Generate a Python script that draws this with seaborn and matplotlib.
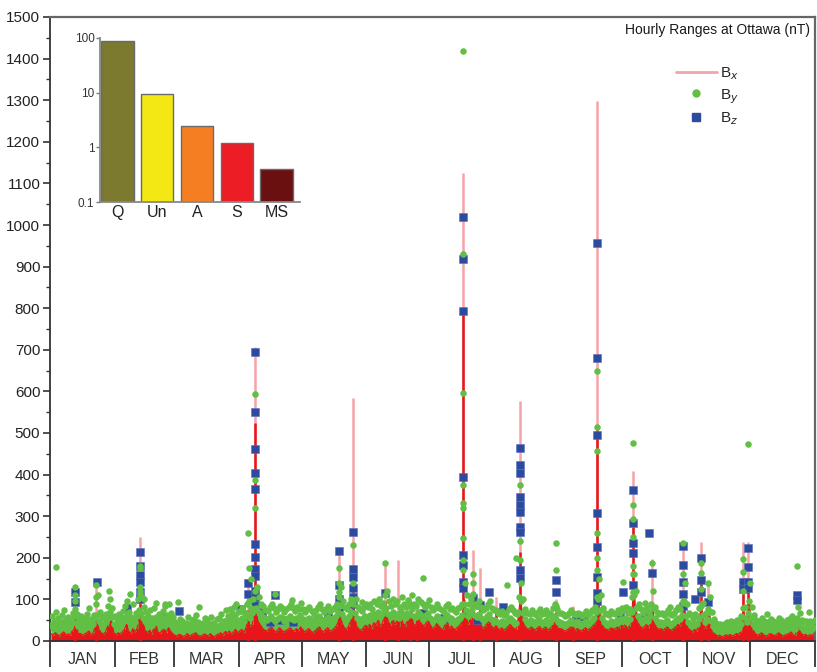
import numpy as np
import pandas as pd
import matplotlib
matplotlib.use("Agg")
import matplotlib.pyplot as plt
from matplotlib.lines import Line2D
from matplotlib.ticker import MultipleLocator, NullLocator
import seaborn as sns

# ---------------------------------------------------------------- data
months = ["JAN", "FEB", "MAR", "APR", "MAY", "JUN",
          "JUL", "AUG", "SEP", "OCT", "NOV", "DEC"]
month_days = [31, 28, 31, 30, 31, 30, 31, 31, 30, 31, 30, 31]

# daily upper edge of the dense hourly Bx trace (nT), one line per month
bx_daily = [
    18, 14, 20, 16, 12, 18, 22, 15, 17, 14, 24, 30, 44, 18, 18, 14, 17, 20, 24, 15, 19, 34, 50, 26, 20, 17, 22, 36, 62, 44, 20,
    15, 20, 17, 22, 28, 40, 24, 18, 30, 22, 30, 55, 70, 40, 25, 20, 26, 17, 30, 36, 22, 19, 26, 28, 20, 32, 24, 18,
    14, 12, 16, 15, 10, 13, 18, 12, 15, 17, 20, 14, 12, 13, 17, 15, 12, 18, 13, 10, 15, 17, 20, 13, 25, 18, 24, 17, 22, 28, 20,
    24, 28, 20, 32, 50, 36, 40, 70, 60, 45, 38, 30, 26, 24, 30, 34, 28, 22, 26, 32, 27, 22, 25, 28, 32, 27, 23, 30, 25, 34,
    28, 22, 26, 30, 24, 20, 25, 30, 34, 26, 22, 28, 32, 24, 26, 30, 36, 45, 70, 40, 32, 28, 36, 55, 90, 50, 34, 28, 26, 32, 38,
    34, 40, 30, 45, 38, 50, 36, 42, 60, 70, 45, 38, 52, 40, 48, 35, 58, 42, 36, 50, 44, 62, 40, 38, 55, 46, 40, 36, 44, 50,
    38, 30, 34, 42, 36, 30, 28, 40, 44, 32, 36, 30, 28, 34, 38, 45, 100, 60, 40, 52, 64, 48, 42, 56, 38, 30, 35, 42, 48, 36, 32,
    34, 30, 28, 32, 26, 30, 36, 40, 34, 30, 28, 60, 110, 52, 36, 30, 28, 34, 30, 26, 32, 36, 28, 30, 34, 26, 30, 40, 48, 36, 30,
    30, 28, 24, 26, 30, 34, 28, 25, 30, 27, 24, 28, 32, 26, 30, 34, 40, 55, 120, 60, 38, 30, 28, 26, 32, 30, 28, 34, 30, 40,
    34, 40, 30, 36, 60, 130, 70, 44, 36, 30, 34, 40, 32, 45, 70, 40, 32, 28, 30, 26, 30, 34, 28, 26, 30, 34, 40, 36, 50, 90, 45,
    30, 26, 22, 28, 24, 40, 80, 50, 30, 36, 60, 32, 20, 16, 12, 14, 10, 12, 15, 13, 16, 12, 14, 18, 16, 22, 70, 40, 30, 90,
    40, 26, 18, 14, 16, 20, 15, 12, 14, 18, 16, 13, 15, 20, 17, 12, 14, 16, 18, 22, 15, 13, 40, 30, 18, 14, 16, 12, 15, 14, 18,
]

# daily upper edge of the dense hourly By cloud (nT)
by_band = [
    38, 32, 45, 40, 30, 42, 48, 36, 40, 34, 46, 60, 44, 36, 40, 34, 38, 44, 50, 36, 42, 55, 62, 48, 42, 38, 45, 55, 70, 58, 42,
    36, 44, 40, 48, 55, 62, 48, 40, 52, 45, 60, 75, 68, 55, 48, 42, 50, 38, 52, 58, 45, 40, 48, 52, 42, 55, 46, 40,
    32, 28, 36, 34, 26, 30, 38, 28, 34, 36, 40, 32, 28, 30, 36, 34, 28, 38, 30, 26, 34, 36, 42, 32, 48, 40, 50, 44, 55, 60, 48,
    50, 56, 48, 60, 64, 55, 68, 75, 80, 70, 62, 58, 52, 50, 56, 60, 54, 48, 52, 58, 55, 48, 52, 56, 60, 54, 50, 56, 52, 62,
    54, 48, 52, 56, 50, 45, 52, 56, 60, 52, 48, 54, 58, 50, 52, 56, 60, 70, 85, 65, 56, 52, 60, 70, 90, 68, 56, 52, 50, 56, 60,
    56, 62, 52, 66, 60, 70, 58, 64, 75, 80, 65, 58, 70, 60, 66, 56, 72, 62, 56, 68, 62, 76, 60, 58, 70, 64, 60, 56, 62, 68,
    56, 50, 54, 60, 55, 50, 48, 58, 62, 52, 55, 50, 48, 54, 56, 62, 90, 75, 60, 68, 76, 62, 58, 66, 56, 50, 54, 60, 64, 54, 50,
    50, 46, 44, 48, 42, 46, 52, 56, 50, 46, 44, 70, 95, 68, 52, 46, 44, 50, 46, 42, 48, 52, 44, 46, 50, 42, 46, 54, 60, 52, 46,
    46, 44, 40, 42, 46, 50, 44, 42, 46, 44, 40, 44, 48, 42, 46, 50, 56, 70, 100, 75, 55, 46, 44, 42, 48, 46, 44, 50, 46, 54,
    50, 56, 46, 52, 70, 110, 80, 60, 52, 46, 50, 56, 48, 60, 80, 56, 48, 44, 46, 42, 46, 50, 44, 42, 46, 50, 56, 52, 62, 95, 60,
    46, 42, 38, 44, 40, 54, 85, 62, 46, 52, 70, 48, 36, 30, 26, 28, 24, 26, 30, 28, 32, 26, 30, 34, 32, 40, 80, 56, 46, 95,
    56, 42, 34, 30, 32, 38, 32, 28, 30, 36, 32, 28, 30, 38, 34, 28, 30, 34, 36, 40, 32, 28, 55, 46, 34, 30, 32, 28, 32, 30, 34,
]

# daily maximum of hourly By (nT)
by_max = [
    60, 48, 70, 56, 45, 62, 75, 52, 58, 50, 68, 95, 64, 52, 60, 48, 55, 66, 80, 52, 62, 90, 110, 70, 60, 55, 66, 85, 100, 80, 60,
    52, 66, 58, 72, 85, 95, 70, 58, 90, 68, 100, 120, 105, 82, 70, 60, 75, 55, 80, 92, 66, 58, 72, 85, 62, 88, 68, 58,
    45, 40, 52, 48, 38, 44, 58, 40, 50, 54, 62, 46, 40, 44, 55, 50, 40, 58, 44, 38, 52, 55, 65, 48, 75, 60, 78, 68, 82, 90, 70,
    72, 80, 70, 88, 95, 80, 100, 120, 130, 105, 90, 85, 75, 72, 82, 90, 80, 70, 76, 85, 80, 70, 76, 82, 90, 80, 72, 82, 76, 92,
    78, 70, 76, 82, 72, 66, 75, 82, 88, 76, 70, 78, 85, 72, 76, 82, 90, 105, 130, 95, 82, 76, 90, 100, 140, 100, 82, 76, 72, 82, 90,
    82, 90, 76, 95, 88, 100, 85, 92, 110, 120, 95, 85, 100, 88, 96, 82, 105, 90, 82, 98, 90, 110, 88, 85, 100, 94, 88, 82, 90, 98,
    82, 74, 80, 88, 80, 74, 70, 85, 90, 76, 80, 74, 70, 80, 82, 90, 140, 110, 88, 100, 112, 90, 85, 96, 82, 74, 80, 88, 95, 80, 74,
    74, 68, 66, 72, 62, 68, 76, 82, 74, 68, 66, 105, 140, 100, 76, 68, 66, 74, 68, 62, 70, 76, 66, 68, 74, 62, 68, 80, 88, 76, 68,
    68, 66, 60, 62, 68, 74, 66, 62, 68, 66, 60, 66, 72, 62, 68, 74, 82, 105, 150, 110, 80, 68, 66, 62, 72, 68, 66, 74, 68, 80,
    74, 82, 68, 76, 105, 160, 120, 88, 76, 68, 74, 82, 70, 88, 120, 82, 70, 66, 68, 62, 68, 74, 66, 62, 68, 74, 82, 76, 92, 140, 88,
    68, 62, 56, 66, 60, 80, 125, 92, 68, 76, 105, 70, 54, 44, 38, 42, 36, 40, 45, 42, 48, 40, 45, 50, 48, 60, 120, 82, 68, 140,
    82, 62, 50, 45, 48, 56, 48, 42, 45, 54, 48, 42, 45, 56, 50, 42, 45, 50, 54, 60, 48, 42, 82, 68, 50, 45, 48, 42, 48, 45, 50,
]

# disturbed intervals of Bx: day of year, hourly peak and sustained level (nT)
bx_storm_day = [12, 22, 43, 94.5, 97.8, 138, 144.6, 159.8, 166, 171.8, 175, 197, 201.8,
                205.2, 213, 224.2, 241.4, 249.5, 261, 278, 287, 302, 310.6, 314, 330.6, 333]
bx_storm_top = [70, 130, 250, 150, 707, 220, 583, 190, 195, 100, 95, 1126, 219,
                175, 106, 577, 100, 84, 1298, 409, 197, 239, 239, 140, 239, 239]
bx_storm_core = [55, 60, 110, 75, 524, 100, 154, 95, 70, 70, 65, 793, 90,
                 80, 70, 214, 70, 60, 507, 274, 90, 120, 150, 70, 130, 150]

# hourly By values standing out of the background
by_storm_day = [2.9, 12, 12, 12, 22, 22, 28, 38, 43, 43, 43, 43, 45, 55, 61, 71,
                94.5, 97.8, 97.8, 97.8, 95, 96, 107.3, 115.5,
                138, 138, 138, 144.6, 149, 159.8, 178,
                197, 197, 197, 197, 197, 197, 197, 197, 197, 202, 202, 218,
                224.2, 224.2, 224.2, 222.5, 241.5, 241.5, 241.5,
                261, 261, 261, 261, 261, 261,
                278, 278, 278, 278, 278, 278, 278, 273.4, 287, 284, 296,
                302, 302, 302, 310.6, 310.6, 314,
                330.6, 330.6, 333, 342, 356.4, 362]
by_storm_val = [178, 130, 110, 77, 135, 106, 120, 113, 180, 175, 130, 112, 100, 90, 93, 81,
                260, 594, 387, 320, 175, 150, 112, 98,
                176, 118, 140, 230, 93, 187, 151,
                1419, 930, 596, 375, 332, 320, 248, 195, 170, 160, 140, 135,
                375, 240, 195, 200, 235, 170, 83,
                648, 515, 457, 260, 200, 170,
                476, 327, 293, 251, 180, 160, 118, 143, 187, 92, 82,
                235, 161, 95, 188, 163, 139,
                197, 165, 473, 65, 181, 70]

# hourly Bz values standing out of the background
bz_day = [12, 12, 22.5, 36.6, 43, 43, 43, 43, 43, 43, 54, 61.5,
          91, 94.5, 94.5, 97.8, 97.8, 97.8, 97.8, 97.8, 97.8, 97.8, 97.8, 97.8, 97.8, 97.8, 97.8,
          101, 105, 107.3, 110, 116,
          132.6, 138, 138, 138, 138, 144.6, 144.6, 144.6, 144.6, 144.6, 144.6, 159.8, 178, 188,
          197, 197, 197, 197, 197, 197, 197, 197, 201.8, 203.7, 205.2, 209.4, 216,
          224.2, 224.2, 224.2, 224.2, 224.2, 224.2, 224.2, 224.2, 224.2, 224.2, 241.5, 241.5, 251, 255,
          261, 261, 261, 261, 261, 261, 261, 261, 272,
          273.4, 278, 278, 278, 278, 278, 284, 285.8, 287,
          302, 302, 302, 302, 302, 307.6, 310.6, 310.6, 310.6, 314,
          330.6, 330.6, 333, 333, 333, 333, 356.4, 356.4]
bz_val = [117, 93, 143, 80, 214, 181, 158, 142, 118, 100, 56, 73,
          77, 140, 113, 695, 551, 461, 405, 365, 233, 203, 173, 156, 121, 106, 87,
          70, 46, 111, 50, 45,
          62, 217, 135, 101, 82, 262, 173, 155, 127, 106, 90, 116, 67, 55,
          1020, 918, 793, 395, 207, 183, 143, 128, 103, 50, 87, 118, 82,
          464, 423, 404, 346, 328, 310, 273, 262, 170, 152, 147, 118, 62, 58,
          957, 681, 495, 308, 227, 155, 115, 95, 67,
          118, 363, 284, 236, 211, 135, 67, 259, 164,
          228, 183, 143, 113, 83, 101, 199, 147, 118, 94,
          143, 125, 223, 179, 143, 128, 111, 99]

# share of hours per activity class (%)
activity_classes = ["Q", "Un", "A", "S", "MS"]
activity_pct = [86.3, 9.6, 2.5, 1.2, 0.4]
activity_colors = ["#7b7a2f", "#f3e813", "#f57e22", "#ec1d25", "#6a1010"]

assert len(bx_daily) == len(by_band) == len(by_max) == 365
assert len(bx_storm_day) == len(bx_storm_top) == len(bx_storm_core)
assert len(by_storm_day) == len(by_storm_val)
assert len(bz_day) == len(bz_val)

# ---------------------------------------------------------------- style
sns.set_theme(style="white")
plt.rcParams["font.family"] = ["Liberation Sans", "DejaVu Sans"]

RED = "#e8161b"
PINK = "#f5a3a6"
GREEN = "#62bf45"
BLUE = "#2c4a9e"

W, H = 817, 672
fig = plt.figure(figsize=(W / 100, H / 100), dpi=100)
ax = fig.add_axes([50 / W, 1 - 641 / H, 765 / W, 624 / H])

days = np.arange(365) + 0.5

# storm peaks of Bx (thin hourly excursions)
ax.vlines(bx_storm_day, 0, bx_storm_top, color=PINK, lw=1.8, zorder=1.5)

# dense By cloud and Bx trace
ax.fill_between(days, 0, by_band, step="mid", color=GREEN, lw=0, zorder=2)
ax.fill_between(days, 0, bx_daily, step="mid", color=RED, lw=0, zorder=2.5)
sns.lineplot(x=days, y=bx_daily, color=RED, lw=0.8, ax=ax, zorder=2.5)
ax.vlines(bx_storm_day, 0, bx_storm_core, color=RED, lw=1.8, zorder=2.6)

# Bz squares
bz_df = pd.DataFrame({"day": bz_day, "nT": bz_val})
sns.scatterplot(data=bz_df, x="day", y="nT", ax=ax, marker="s", s=40,
                color=BLUE, edgecolor="#5a6fc0", linewidth=0.4, zorder=3)

# By dots
by_df = pd.DataFrame({
    "day": list(days) + list(days + 0.3) + by_storm_day,
    "nT": by_band + by_max + by_storm_val,
})
sns.scatterplot(data=by_df, x="day", y="nT", ax=ax, marker="o", s=22,
                color=GREEN, linewidth=0, zorder=3.5)

# axes
bounds = np.cumsum([0] + month_days)
centers = (bounds[:-1] + bounds[1:]) / 2
ax.set_xlim(0, 365)
ax.set_ylim(0, 1500)
ax.set_xticks(bounds)
ax.set_xticklabels([""] * len(bounds))
ax.set_xticks(centers, minor=True)
ax.set_xticklabels(months, minor=True)
ax.tick_params(axis="x", which="major", direction="out", length=19, width=1.3,
               color="#333333", bottom=True)
ax.tick_params(axis="x", which="minor", length=0, pad=8, labelsize=11.5,
               labelcolor="#333333", bottom=True)
ax.yaxis.set_major_locator(MultipleLocator(100))
ax.yaxis.set_minor_locator(MultipleLocator(50))
ax.tick_params(axis="y", which="major", direction="out", length=5, width=1.2,
               labelsize=11, labelcolor="#222222", color="#333333", left=True, pad=2)
ax.tick_params(axis="y", which="minor", direction="out", length=3, width=1.0,
               color="#333333", left=True)
ax.set_xlabel("")
ax.set_ylabel("")
for side in ("left", "bottom"):
    ax.spines[side].set_color("#333333")
    ax.spines[side].set_linewidth(1.3)
for side in ("top", "right"):
    ax.spines[side].set_color("#666666")
    ax.spines[side].set_linewidth(1.6)

ax.text(0.993, 0.979, "Hourly Ranges at Ottawa (nT)", transform=ax.transAxes,
        ha="right", va="center", fontsize=10, color="#1a1a1a")

handles = [
    Line2D([], [], color=PINK, lw=2),
    Line2D([], [], color=GREEN, marker="o", ms=5, lw=0),
    Line2D([], [], color=BLUE, marker="s", ms=6, lw=0),
]
fig.legend(handles, ["B$_x$", "B$_y$", "B$_z$"], loc="upper left",
           bbox_to_anchor=(668 / W, 1 - 58 / H), frameon=False, fontsize=11,
           handlelength=2.7, handletextpad=0.2, labelspacing=0.3, borderpad=0)

# inset: share of hours by activity class
axin = fig.add_axes([100 / W, 1 - 202 / H, 200 / W, 164 / H])
axin.set_facecolor("none")
act_df = pd.DataFrame({"cls": activity_classes, "pct": activity_pct})
sns.barplot(data=act_df, x="cls", y="pct", hue="cls", palette=activity_colors,
            saturation=1, edgecolor="#6a6a6a", linewidth=1.0, width=0.82,
            legend=False, ax=axin)
axin.set_yscale("log")
axin.set_ylim(0.1, 100)
axin.set_xlim(-0.43, 4.58)
axin.set_yticks([0.1, 1, 10, 100])
axin.set_yticklabels(["0.1", "1", "10", "100"])
axin.yaxis.set_minor_locator(NullLocator())
axin.tick_params(axis="y", direction="out", length=3, width=1, labelsize=8.5,
                 labelcolor="#333333", color="#777777", left=True, pad=1)
axin.tick_params(axis="x", length=0, labelsize=11.5, labelcolor="#222222", pad=2)
axin.set_xlabel("")
axin.set_ylabel("")
for side in ("top", "right"):
    axin.spines[side].set_visible(False)
for side in ("left", "bottom"):
    axin.spines[side].set_color("#888888")
    axin.spines[side].set_linewidth(1.3)

fig.savefig("out.png", dpi=100)
